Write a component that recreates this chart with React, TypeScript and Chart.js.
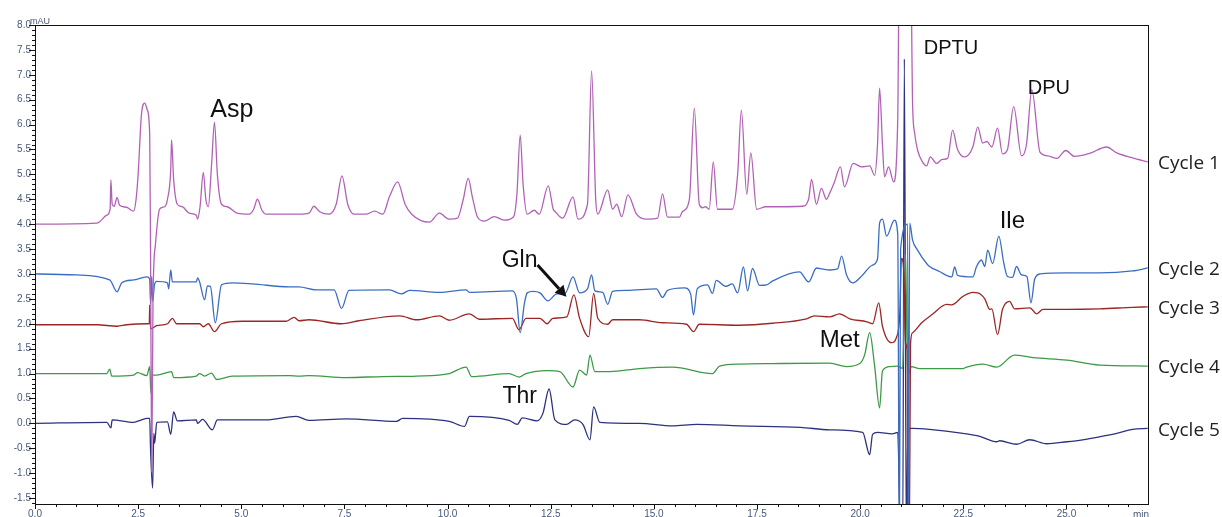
import React, { useEffect, useRef } from 'react';
import { Chart, registerables } from 'chart.js';

Chart.register(...registerables);

type Pt = [number, number];

const SERIES_NAMES = ['Cycle 1', 'Cycle 2', 'Cycle 3', 'Cycle 4', 'Cycle 5'];
const SERIES_COLORS = ['#B262B6', '#3A6DC2', '#9C2626', '#3C9A46', '#2D317F'];

const CYCLE_1: Pt[] = [
  [0, 4.0], [1.5, 4.02], [1.74, 4.18], [1.82, 4.3], [1.84, 4.89], [1.87, 4.4], [1.92, 4.36], [1.99, 4.54], [2.05, 4.38],
  [2.22, 4.34], [2.39, 4.26], [2.45, 4.5], [2.5, 5.0], [2.58, 6.2], [2.66, 6.43], [2.72, 6.3], [2.78, 5.8], [2.8, 3.5],
  [2.83, -0.98], [2.86, 2.5], [2.92, 3.6], [3.02, 4.3], [3.14, 4.35], [3.21, 4.5], [3.29, 5.1], [3.31, 5.69], [3.36, 4.9],
  [3.45, 4.4], [3.57, 4.35], [3.74, 4.22], [3.91, 4.18], [3.94, 4.1], [4.0, 4.35], [4.08, 5.04], [4.14, 4.5], [4.2, 4.35],
  [4.28, 5.2], [4.35, 6.05], [4.42, 5.0], [4.52, 4.4], [4.66, 4.35], [4.9, 4.22], [5.19, 4.2], [5.3, 4.3], [5.39, 4.5],
  [5.5, 4.28], [5.6, 4.2], [6.4, 4.2], [6.64, 4.22], [6.76, 4.36], [6.9, 4.25], [7.13, 4.2], [7.3, 4.4], [7.44, 4.97],
  [7.58, 4.4], [7.73, 4.2], [8.02, 4.2], [8.23, 4.26], [8.43, 4.2], [8.59, 4.55], [8.79, 4.85], [8.97, 4.4], [9.13, 4.2],
  [9.56, 4.04], [9.8, 4.22], [10.04, 4.1], [10.24, 4.12], [10.38, 4.5], [10.5, 4.92], [10.6, 4.55], [10.72, 4.15],
  [10.89, 4.06], [11.13, 4.15], [11.37, 4.08], [11.6, 4.15], [11.68, 4.6], [11.76, 5.79], [11.83, 4.8], [11.93, 4.2],
  [12.1, 4.28], [12.22, 4.2], [12.44, 4.77], [12.56, 4.3], [12.6, 4.26], [12.79, 4.12], [13.04, 4.55], [13.16, 4.1],
  [13.39, 4.4], [13.49, 7.08], [13.59, 4.5], [13.64, 4.2], [13.88, 4.69], [14.0, 4.3], [14.1, 4.4], [14.22, 4.15],
  [14.37, 4.59], [14.58, 4.2], [14.82, 4.1], [15.09, 4.12], [15.21, 4.61], [15.33, 4.14], [15.62, 4.14], [15.69, 4.25],
  [15.86, 4.5], [15.98, 6.33], [16.1, 4.4], [16.18, 4.33], [16.25, 4.35], [16.34, 4.3], [16.44, 5.25], [16.54, 4.3],
  [16.9, 4.3], [17.03, 5.0], [17.12, 6.29], [17.25, 4.6], [17.35, 5.43], [17.49, 4.3], [17.71, 4.35], [17.88, 4.35],
  [18.6, 4.36], [18.75, 4.5], [18.82, 4.9], [18.94, 4.4], [19.06, 4.72], [19.18, 4.5], [19.26, 4.62], [19.37, 4.83],
  [19.52, 5.15], [19.62, 4.75], [19.83, 5.22], [20.04, 5.15], [20.23, 5.17], [20.35, 4.98], [20.42, 5.6], [20.47, 6.73],
  [20.54, 5.6], [20.59, 4.95], [20.69, 5.15], [20.81, 4.85], [20.91, 6.1], [20.95, 9.5], [21.22, 9.5], [21.27, 6.43],
  [21.32, 5.83], [21.39, 5.49], [21.51, 5.25], [21.61, 5.17], [21.7, 5.35], [21.85, 5.22], [21.99, 5.3], [22.12, 5.32],
  [22.24, 5.89], [22.36, 5.5], [22.53, 5.35], [22.73, 5.55], [22.85, 5.95], [22.97, 5.63], [23.07, 5.66], [23.19, 5.55],
  [23.33, 5.93], [23.45, 5.41], [23.57, 5.5], [23.72, 6.36], [23.91, 5.37], [24.03, 5.6], [24.16, 6.7], [24.36, 5.44],
  [24.55, 5.37], [24.77, 5.32], [24.98, 5.48], [25.2, 5.36], [25.56, 5.42], [25.97, 5.55], [26.22, 5.43], [26.6, 5.33],
  [26.97, 5.25],
];

const CYCLE_2: Pt[] = [
  [0, 3.0], [1.01, 2.98], [1.81, 2.88], [1.99, 2.64], [2.1, 2.82], [2.39, 2.88], [2.71, 2.94], [2.78, 2.9], [2.8, 2.4],
  [2.83, 2.95], [2.85, 2.45], [2.9, 2.8], [2.95, 2.85], [3.21, 2.82], [3.24, 2.7], [3.29, 3.08], [3.33, 2.84], [3.91, 2.84],
  [3.94, 2.92], [3.99, 2.84], [4.11, 2.48], [4.18, 2.76], [4.25, 2.75], [4.37, 2.02], [4.52, 2.78], [4.78, 2.82],
  [5.27, 2.8], [6.16, 2.74], [6.4, 2.74], [6.81, 2.68], [7.25, 2.68], [7.43, 2.31], [7.61, 2.67], [8.59, 2.68], [8.88, 2.6],
  [9.08, 2.67], [9.8, 2.63], [10.45, 2.68], [10.53, 2.63], [11.57, 2.66], [11.67, 2.5], [11.76, 1.82], [11.86, 2.4],
  [11.93, 2.62], [12.07, 2.65], [12.24, 2.62], [12.43, 2.46], [12.65, 2.6], [12.84, 2.6], [13.04, 2.94], [13.2, 2.62],
  [13.39, 2.7], [13.49, 2.98], [13.57, 2.66], [13.76, 2.63], [13.88, 2.39], [14.0, 2.65], [14.34, 2.67], [15.06, 2.7],
  [15.21, 2.53], [15.33, 2.67], [15.74, 2.72], [15.89, 2.6], [15.96, 2.18], [16.05, 2.7], [16.3, 2.78], [16.42, 2.61],
  [16.51, 2.87], [16.75, 2.75], [16.9, 2.8], [17.03, 2.62], [17.17, 3.14], [17.27, 2.66], [17.39, 3.11], [17.56, 2.77],
  [17.73, 2.78], [17.88, 2.86], [18.53, 3.04], [18.75, 2.84], [18.94, 3.12], [19.08, 3.1], [19.26, 3.08], [19.45, 3.1],
  [19.55, 3.36], [19.67, 2.98], [19.82, 2.82], [20.06, 2.98], [20.28, 3.17], [20.42, 3.3], [20.47, 4.02], [20.54, 4.1],
  [20.64, 3.76], [20.83, 4.08], [20.91, 3.8], [20.95, -2.5], [20.98, 3.5], [21.15, 4.0], [21.17, -2.5], [21.2, 4.02],
  [21.27, 3.68], [21.39, 3.48], [21.61, 3.21], [21.68, 3.15], [21.92, 3.05], [22.22, 2.94], [22.29, 3.14], [22.36, 2.97],
  [22.73, 2.94], [22.82, 3.15], [22.94, 3.28], [23.02, 3.15], [23.09, 3.48], [23.21, 3.21], [23.36, 3.76], [23.48, 3.22],
  [23.57, 2.95], [23.69, 2.93], [23.79, 3.15], [23.91, 2.98], [24.04, 2.95], [24.14, 2.42], [24.23, 2.9], [24.36, 3.0],
  [25.01, 3.02], [25.8, 3.02], [26.6, 3.06], [26.97, 3.12],
];

const CYCLE_3: Pt[] = [
  [0, 1.98], [1.5, 1.98], [1.99, 1.95], [2.22, 1.98], [2.71, 2.0], [2.77, 2.0], [2.78, 2.38], [2.8, 1.9], [2.95, 1.96],
  [3.21, 2.0], [3.33, 2.11], [3.43, 2.0], [3.99, 2.0], [4.08, 1.94], [4.2, 2.0], [4.35, 1.84], [4.52, 2.0], [5.02, 2.05],
  [6.09, 2.05], [6.28, 2.13], [6.4, 2.06], [6.64, 2.08], [7.42, 2.0], [7.85, 2.06], [8.84, 2.16], [9.25, 2.08], [9.8, 2.16],
  [10.04, 2.07], [10.53, 2.2], [10.77, 2.09], [11.57, 2.11], [11.73, 1.88], [11.9, 2.11], [12.24, 2.11], [12.41, 2.0],
  [12.55, 2.11], [12.89, 2.14], [13.06, 2.58], [13.2, 2.11], [13.42, 1.74], [13.54, 2.61], [13.64, 2.11], [13.88, 1.99],
  [14.0, 2.08], [14.65, 2.08], [15.21, 2.02], [15.79, 1.99], [15.96, 1.84], [16.1, 1.99], [17.08, 1.97], [17.88, 2.01],
  [18.7, 2.1], [18.89, 2.16], [19.26, 2.14], [19.5, 2.2], [19.75, 2.1], [20.16, 2.04], [20.3, 2.0], [20.45, 2.42],
  [20.54, 1.95], [20.76, 1.62], [20.88, 1.73], [20.96, 2.2], [21.0, 3.32], [21.06, 3.0], [21.1, 1.5], [21.14, 1.6],
  [21.15, -2.5], [21.19, -2.5], [21.22, 1.6], [21.27, 1.82], [21.49, 2.02], [21.75, 2.19], [22.1, 2.39], [22.22, 2.38],
  [22.49, 2.55], [22.73, 2.63], [22.85, 2.62], [23.02, 2.5], [23.14, 2.29], [23.19, 2.3], [23.33, 1.78], [23.45, 2.29],
  [23.62, 2.45], [23.74, 2.3], [24.11, 2.32], [24.28, 2.2], [24.43, 2.29], [25.01, 2.29], [25.8, 2.3], [26.6, 2.33],
  [26.97, 2.34],
];

const CYCLE_4: Pt[] = [
  [0, 1.0], [1.74, 1.0], [1.81, 1.09], [1.86, 0.95], [2.39, 0.97], [2.49, 1.02], [2.71, 0.96], [2.78, 1.14], [2.81, 0.6],
  [2.85, 0.97], [2.95, 0.97], [3.31, 1.04], [3.36, 0.92], [3.91, 0.95], [3.99, 1.0], [4.11, 0.95], [4.28, 1.01], [4.4, 0.88],
  [4.78, 0.95], [6.16, 0.96], [6.4, 0.95], [6.64, 0.96], [7.54, 0.92], [8.43, 0.94], [9.25, 0.95], [10.04, 1.0],
  [10.45, 1.13], [10.58, 0.94], [11.49, 1.0], [11.73, 0.93], [11.9, 1.0], [12.41, 1.06], [12.72, 1.04], [13.04, 0.73],
  [13.2, 1.07], [13.37, 0.97], [13.45, 1.37], [13.57, 1.04], [13.93, 1.04], [14.65, 1.1], [15.45, 1.13], [16.42, 1.0],
  [16.59, 1.15], [17.08, 1.19], [17.88, 1.2], [19.26, 1.21], [19.67, 1.14], [19.99, 1.2], [20.11, 1.38], [20.23, 1.82],
  [20.35, 1.15], [20.47, 0.31], [20.54, 1.05], [20.71, 1.14], [20.91, 1.15], [21.03, 1.1], [21.1, 3.4], [21.14, 1.3],
  [21.17, 1.0], [21.24, 1.14], [21.44, 1.1], [21.75, 1.1], [22.49, 1.1], [22.58, 1.13], [22.97, 1.19], [23.31, 1.13],
  [23.74, 1.37], [24.19, 1.32], [25.01, 1.27], [25.8, 1.17], [26.97, 1.15],
];

const CYCLE_5: Pt[] = [
  [0, 0.0], [1.74, 0.02], [1.84, -0.09], [1.87, 0.07], [2.39, 0.02], [2.58, 0.07], [2.71, 0.1], [2.78, 0.1], [2.8, -0.5],
  [2.85, -1.3], [2.88, -0.2], [2.9, -0.4], [2.95, 0.02], [3.21, 0.03], [3.29, -0.22], [3.36, 0.23], [3.45, 0.05],
  [3.91, 0.07], [3.94, 0.0], [4.06, 0.08], [4.3, -0.13], [4.42, 0.07], [5.6, 0.07], [6.33, 0.14], [6.64, 0.06],
  [7.54, 0.09], [8.76, 0.04], [8.91, 0.1], [10.04, 0.04], [10.41, -0.06], [10.53, 0.14], [11.49, 0.06], [11.69, -0.02],
  [11.81, 0.11], [12.17, 0.05], [12.31, 0.2], [12.46, 0.69], [12.6, 0.07], [12.89, -0.02], [13.08, 0.07], [13.28, -0.02],
  [13.45, -0.33], [13.54, 0.33], [13.69, 0.02], [14.65, 0.0], [15.45, -0.05], [16.04, -0.02], [17.08, -0.05],
  [18.55, -0.08], [19.26, -0.13], [20.06, -0.18], [20.23, -0.63], [20.3, -0.22], [20.42, -0.18], [20.78, -0.21],
  [20.91, -0.18], [20.98, -2.5], [21.03, -2.5], [21.07, 7.32], [21.12, -2.5], [21.15, -0.5], [21.2, -0.1], [21.27, -0.1],
  [21.68, -0.12], [22.49, -0.2], [22.9, -0.26], [23.31, -0.37], [23.38, -0.35], [23.79, -0.42], [24.11, -0.33],
  [24.52, -0.41], [25.01, -0.37], [25.39, -0.33], [25.8, -0.27], [26.22, -0.2], [26.6, -0.12], [26.97, -0.1],
];

const X_TICK_VALUES = [0, 2.5, 5, 7.5, 10, 12.5, 15, 17.5, 20, 22.5, 25];
const X_TICK_LABELS = ['0.0', '2.5', '5.0', '7.5', '10.0', '12.5', '15.0', '17.5', '20.0', '22.5', '25.0'];
const Y_TICK_VALUES = [-1.5, -1, -0.5, 0, 0.5, 1, 1.5, 2, 2.5, 3, 3.5, 4, 4.5, 5, 5.5, 6, 6.5, 7, 7.5, 8];
const Y_TICK_LABELS = ['-1.5', '-1.0', '-0.5', '0.0', '0.5', '1.0', '1.5', '2.0', '2.5', '3.0', '3.5', '4.0', '4.5',
  '5.0', '5.5', '6.0', '6.5', '7.0', '7.5', '8.0'];

const ANNOTATIONS = [
  { text: 'Asp', t: 4.25, v: 6.15, size: 25 },
  { text: 'DPTU', t: 21.54, v: 7.42, size: 20 },
  { text: 'DPU', t: 24.06, v: 6.61, size: 20 },
  { text: 'Ile', t: 23.38, v: 3.92, size: 24 },
  { text: 'Gln', t: 11.31, v: 3.14, size: 23 },
  { text: 'Met', t: 19.02, v: 1.53, size: 24 },
  { text: 'Thr', t: 11.33, v: 0.41, size: 23 },
];
const ARROW_FROM: Pt = [12.18, 3.18];
const ARROW_TO: Pt = [12.88, 2.54];

const TICK_COLOR = '#48597a';
const TICK_FONT = { family: '"Liberation Sans", Arial, sans-serif', size: 10 };

function labelFor(v: number, values: number[], labels: string[]): string {
  const i = values.findIndex((m) => Math.abs(m - v) < 1e-6);
  return i >= 0 ? labels[i] : '';
}

export default function App() {
  const ref = useRef<HTMLCanvasElement>(null);

  useEffect(() => {
    const canvas = ref.current;
    if (!canvas) return;
    const series = [CYCLE_1, CYCLE_2, CYCLE_3, CYCLE_4, CYCLE_5];

    const xMinor: number[] = [];
    for (let i = 0; i <= 53; i++) xMinor.push(i * 0.5);
    const yMinor: number[] = [];
    for (let i = -16; i <= 80; i++) yMinor.push(i / 10);

    const overlay = {
      id: 'overlay',
      afterDraw(chart: any) {
        const { ctx, chartArea: a, scales } = chart;
        const xs = scales.x;
        const ys = scales.y;
        ctx.save();
        ctx.strokeStyle = '#111';
        ctx.lineWidth = 1;
        ctx.strokeRect(a.left + 0.5, a.top + 0.5, a.right - a.left - 1, a.bottom - a.top);
        ctx.beginPath();
        for (const tk of xs.ticks) {
          const p = Math.round(xs.getPixelForValue(tk.value)) + 0.5;
          const major = labelFor(tk.value, X_TICK_VALUES, X_TICK_LABELS) !== '';
          ctx.moveTo(p, a.bottom);
          ctx.lineTo(p, a.bottom + (major ? 5 : 3));
        }
        for (const tk of ys.ticks) {
          const p = Math.round(ys.getPixelForValue(tk.value)) + 0.5;
          const major = labelFor(tk.value, Y_TICK_VALUES, Y_TICK_LABELS) !== '';
          ctx.moveTo(a.left, p);
          ctx.lineTo(a.left - (major ? 6 : 3), p);
        }
        ctx.stroke();

        ctx.fillStyle = TICK_COLOR;
        ctx.font = '9px "Liberation Sans", Arial, sans-serif';
        ctx.textAlign = 'left';
        ctx.textBaseline = 'alphabetic';
        ctx.fillText('mAU', a.left - 5, a.top - 1);
        ctx.font = '10px "Liberation Sans", Arial, sans-serif';
        ctx.textAlign = 'right';
        ctx.textBaseline = 'top';
        ctx.fillText('min', a.right, a.bottom + 6);

        ctx.fillStyle = '#111';
        ctx.textAlign = 'left';
        ctx.textBaseline = 'alphabetic';
        for (const an of ANNOTATIONS) {
          ctx.font = `${an.size}px "Liberation Sans", Arial, sans-serif`;
          ctx.fillText(an.text, xs.getPixelForValue(an.t), ys.getPixelForValue(an.v));
        }

        const x1 = xs.getPixelForValue(ARROW_FROM[0]);
        const y1 = ys.getPixelForValue(ARROW_FROM[1]);
        const x2 = xs.getPixelForValue(ARROW_TO[0]);
        const y2 = ys.getPixelForValue(ARROW_TO[1]);
        const ang = Math.atan2(y2 - y1, x2 - x1);
        const hl = 11;
        const hw = 6;
        const bx = x2 - hl * Math.cos(ang);
        const by = y2 - hl * Math.sin(ang);
        ctx.strokeStyle = '#111';
        ctx.lineWidth = 3;
        ctx.beginPath();
        ctx.moveTo(x1, y1);
        ctx.lineTo(bx, by);
        ctx.stroke();
        ctx.beginPath();
        ctx.moveTo(x2, y2);
        ctx.lineTo(bx + hw * Math.sin(ang), by - hw * Math.cos(ang));
        ctx.lineTo(bx - hw * Math.sin(ang), by + hw * Math.cos(ang));
        ctx.closePath();
        ctx.fill();

        ctx.font = '19px "Open Sans", "Noto Sans", sans-serif';
        ctx.fillStyle = '#222';
        ctx.textBaseline = 'middle';
        series.forEach((s, i) => {
          const last = s[s.length - 1];
          ctx.fillText(SERIES_NAMES[i], a.right + 9, ys.getPixelForValue(last[1]) + 2);
        });
        ctx.restore();
      },
    };

    const chart = new Chart(canvas, {
      type: 'line',
      data: {
        datasets: series.map((s, i) => ({
          label: SERIES_NAMES[i],
          data: s.map(([x, y]) => ({ x, y })),
          borderColor: SERIES_COLORS[i],
          backgroundColor: SERIES_COLORS[i],
          borderWidth: 1.3,
          pointRadius: 0,
          cubicInterpolationMode: 'monotone',
          fill: false,
        })),
      },
      options: {
        animation: false,
        responsive: true,
        maintainAspectRatio: false,
        events: [],
        layout: { padding: { top: 25, right: 73, left: 0, bottom: 0 } },
        plugins: { legend: { display: false }, tooltip: { enabled: false } },
        scales: {
          x: {
            type: 'linear',
            min: 0,
            max: 27,
            afterBuildTicks: (scale: any) => {
              scale.ticks = xMinor.map((v) => ({ value: v }));
            },
            afterFit: (scale: any) => {
              scale.height = 13;
            },
            grid: { display: false, drawTicks: false },
            border: { display: false },
            ticks: {
              autoSkip: false,
              maxRotation: 0,
              padding: 4,
              color: TICK_COLOR,
              font: TICK_FONT,
              callback: (v: any) => labelFor(Number(v), X_TICK_VALUES, X_TICK_LABELS),
            },
          },
          y: {
            type: 'linear',
            min: -1.62,
            max: 8,
            afterBuildTicks: (scale: any) => {
              scale.ticks = yMinor.map((v) => ({ value: v }));
            },
            afterFit: (scale: any) => {
              scale.width = 35;
            },
            grid: { display: false, drawTicks: false },
            border: { display: false },
            ticks: {
              autoSkip: false,
              padding: 4,
              color: TICK_COLOR,
              font: TICK_FONT,
              callback: (v: any) => labelFor(Number(v), Y_TICK_VALUES, Y_TICK_LABELS),
            },
          },
        },
      },
      plugins: [overlay],
    } as any);

    return () => chart.destroy();
  }, []);

  return (
    <div style={{ position: 'absolute', left: 0, top: 0, width: 1222, height: 517, background: '#fff' }}>
      <canvas ref={ref} />
    </div>
  );
}
